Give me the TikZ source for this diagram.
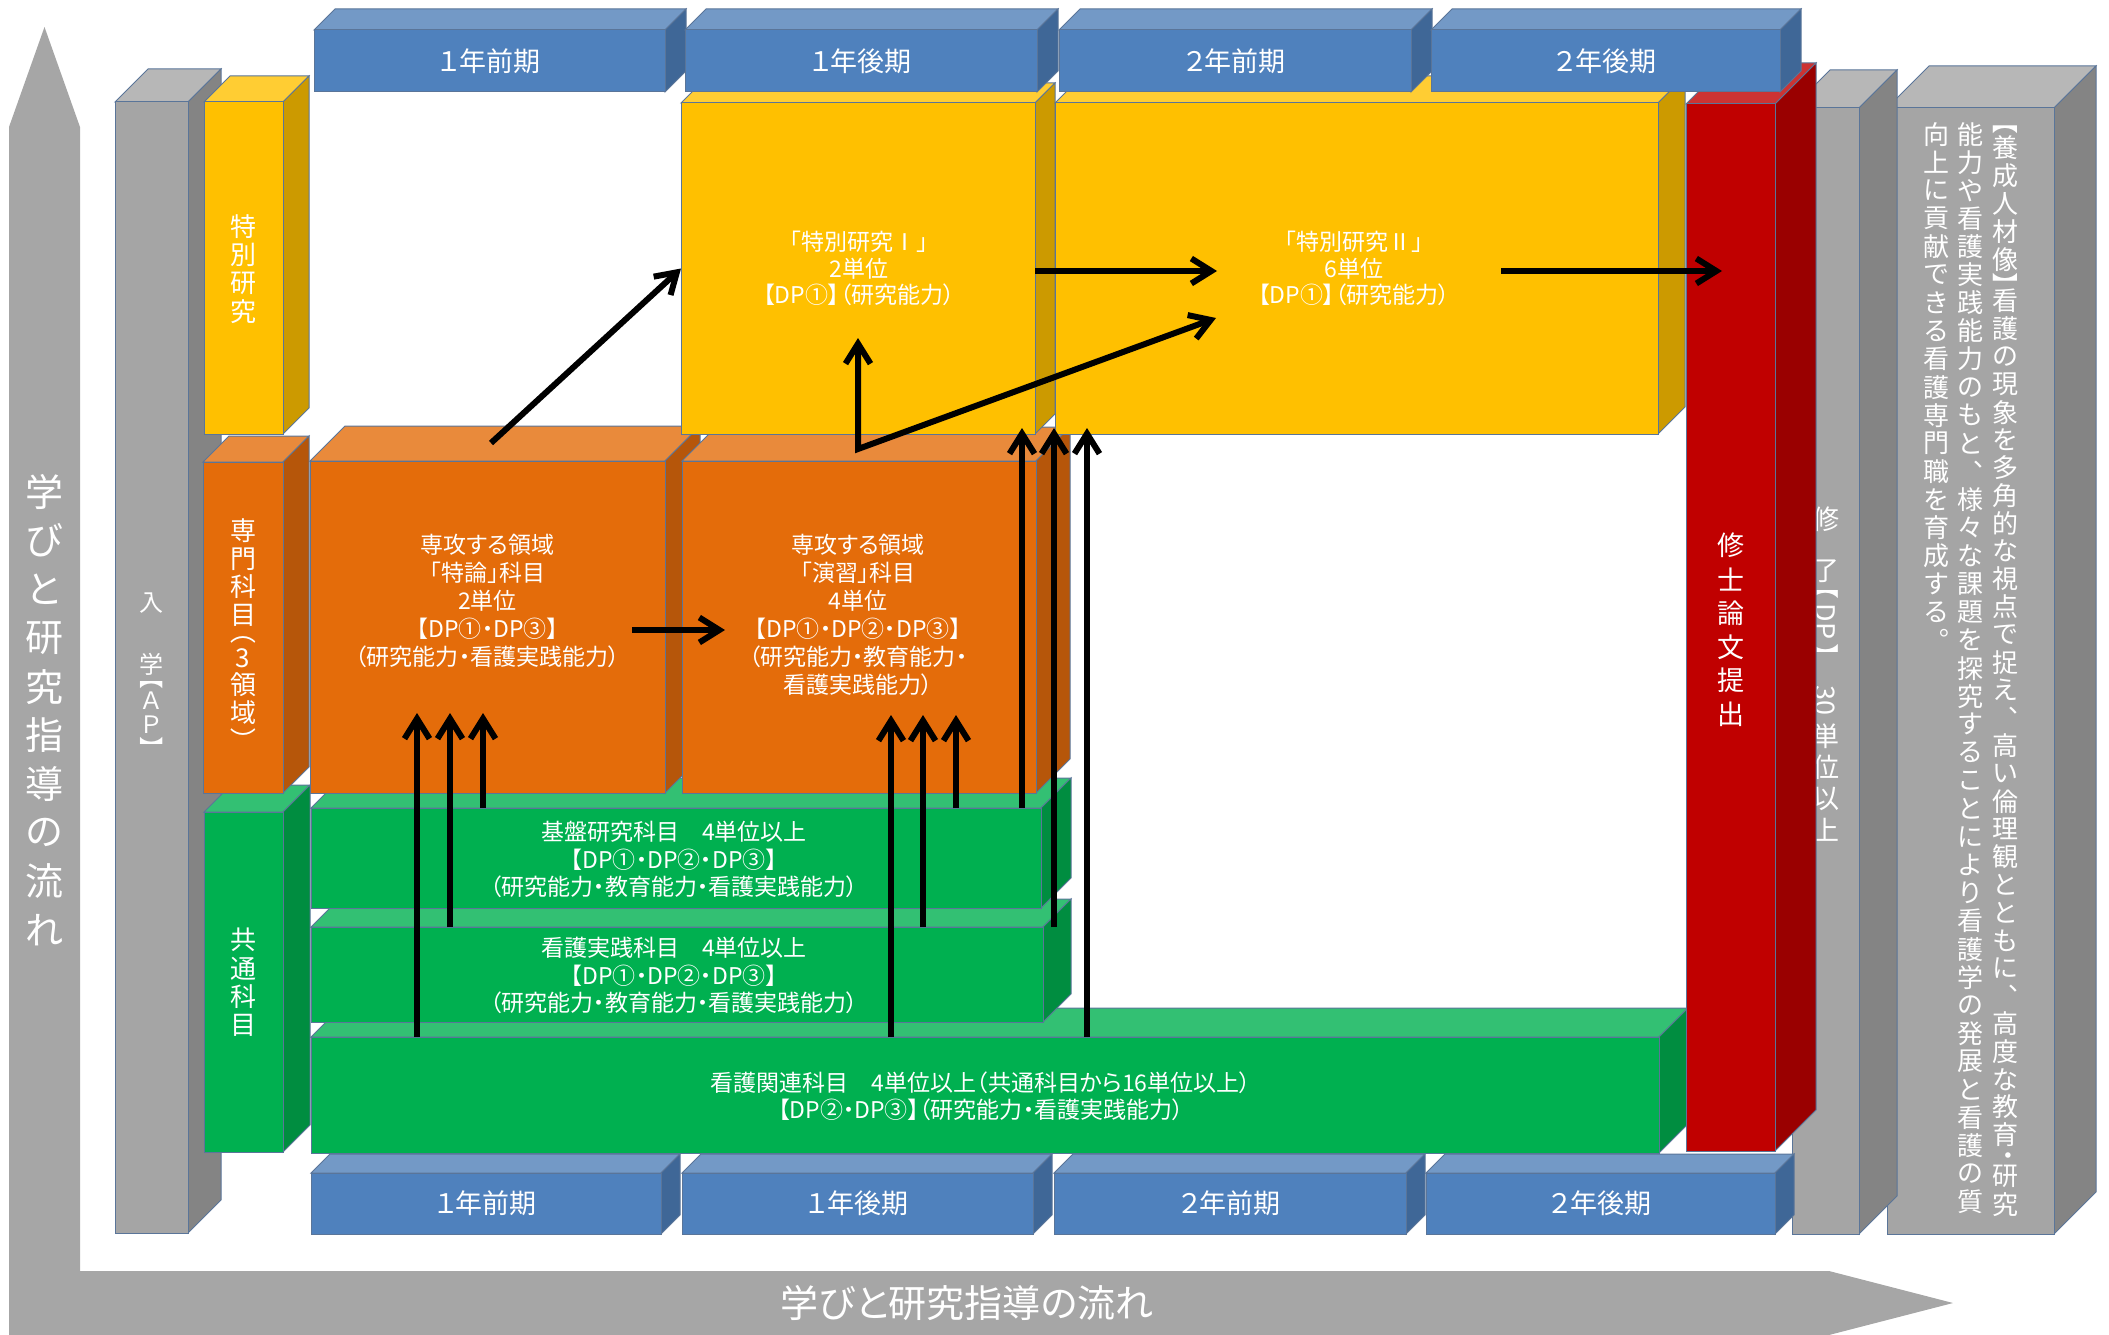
\documentclass[tikz,border=0pt]{standalone}
\usepackage{fontspec}
\usepackage{graphicx}
\usetikzlibrary{arrows.meta,fit}
\setmainfont{Noto Sans CJK JP}
\newfontfamily\jp[RawFeature=+palt]{Noto Sans CJK JP}
\newfontfamily\jv{Noto Sans CJK JP}

\definecolor{gyF}{HTML}{A5A5A5}\definecolor{gyT}{HTML}{B7B7B7}\definecolor{gyS}{HTML}{848484}
\definecolor{ylF}{HTML}{FFC000}\definecolor{ylT}{HTML}{FFCD33}\definecolor{ylS}{HTML}{CC9A00}
\definecolor{orF}{HTML}{E46C0A}\definecolor{orT}{HTML}{E98A3B}\definecolor{orS}{HTML}{B6560A}
\definecolor{gnF}{HTML}{00B050}\definecolor{gnT}{HTML}{33C073}\definecolor{gnS}{HTML}{008D40}
\definecolor{blF}{HTML}{4F81BD}\definecolor{blT}{HTML}{7399C6}\definecolor{blS}{HTML}{3F6797}
\definecolor{rdF}{HTML}{C00000}\definecolor{rdT}{HTML}{CD3333}\definecolor{rdS}{HTML}{9A0000}
\definecolor{edgec}{HTML}{5A7599}
\definecolor{flow}{HTML}{A6A6A6}

\newcommand\vcell[2]{\hbox to 1.1em{\hss\vbox to #1{\vss\hbox{#2}\vss}\hss}}
\newcommand\rot[1]{\rotatebox{-90}{\jp #1}}
\ExplSyntaxOn
\tl_const:Nn \c_my_half_tl {【】・（）}
\NewDocumentCommand\vt{mm}{
  \vbox{\offinterlineskip
    \tl_map_inline:nn {#2}{
      \tl_if_in:NnTF \c_my_half_tl {##1}
        {\vcell{0.5\dimexpr#1\relax}{\rot{##1}}}
        {\vcell{#1}{##1}}
    }}}
\ExplSyntaxOff

\newcommand\cubebox[7]{%
  \filldraw[edge, fill=#7T] (#2,#3) -- (#2+#6,#3-#6) -- (#4+#6,#3-#6) -- (#4,#3) -- cycle;
  \filldraw[edge, fill=#7S] (#4,#3) -- (#4+#6,#3-#6) -- (#4+#6,#5-#6) -- (#4,#5) -- cycle;
  \node[edge, fill=#7F, fit={(#2,#3) (#4,#5)}, inner sep=0pt, outer sep=0pt] (#1) {};
}

\tikzset{
  edge/.style={draw=edgec, line width=1pt},
  txt/.style={text=white, align=center, inner sep=0pt, font=\jp\fontsize{23}{27.5}\selectfont},
  vtxt/.style={text=white, inner sep=0pt, font=\jv\fontsize{#1}{#1}\selectfont},
  btxt/.style={text=white, inner sep=0pt, font=\jp\fontsize{27}{27}\selectfont},
  arr/.style={line width=6pt, -{Straight Barb[length=20pt,width=25pt]}},
  arrtwo/.style={line width=6pt, line join=miter, {Straight Barb[length=20pt,width=25pt]}-{Straight Barb[length=20pt,width=25pt]}},
}

\begin{document}
\begin{tikzpicture}[x=1pt,y=-1pt]
\useasboundingbox (0,0) rectangle (2109,1335);

% flow arrow (L shape)
\fill[flow] (9,1335) -- (9,127) -- (44.5,27) -- (80,127) -- (80,1271) -- (1829,1271) -- (1953,1303) -- (1829,1335) -- cycle;
\node[vtxt=38] (flowv) at (44.5,711) {\vt{48.7pt}{学びと研究指導の流れ}};
\node[text=white, inner sep=0pt, font=\jp\fontsize{38}{38}\selectfont] (flowh) at (967,1303) {学びと研究指導の流れ};

% far right box
\cubebox{fr}{1887}{108}{2054}{1234}{42}{gy}
\node[vtxt=26, anchor=north] (fr1) at (2005,120) {\vt{27.8pt}{【養成人材像】看護の現象を多角的な視点で捉え︑高い倫理観とともに︑高度な教育・研究}};
\node[vtxt=26, anchor=north] (fr2) at (1970,120) {\vt{28.1pt}{能力や看護実践能力のもと︑様々な課題を探究することにより看護学の発展と看護の質}};
\node[vtxt=26, anchor=north] (fr3) at (1936,120) {\vt{28.1pt}{向上に貢献できる看護専門職を育成する︒}};

% completion box
\cubebox{sr}{1792}{108}{1859}{1234}{38}{gy}
\node[vtxt=27] (sr1) at (1825.5,519) {修};
\node[vtxt=27, anchor=north] (sr2) at (1825.5,557) {\vbox{\offinterlineskip\vcell{28pt}{了}\vcell{14pt}{\rot{【}}\vcell{45pt}{\rotatebox{-90}{DP}}\vcell{14pt}{\rot{】}}\vcell{21pt}{}\vcell{42pt}{\rotatebox{-90}{30}}\vcell{31pt}{単}\vcell{31pt}{位}\vcell{31pt}{以}\vcell{31pt}{上}}};

% entrance box
\cubebox{ent}{115}{102}{188}{1233}{33}{gy}
\node[vtxt=24] (ent1) at (151.5,603) {入};
\node[vtxt=24] (ent2) at (151.5,700) {\vbox{\offinterlineskip\vcell{26pt}{学}\vcell{12pt}{\rot{【}}\vcell{24pt}{Ａ}\vcell{24pt}{Ｐ}\vcell{12pt}{\rot{】}}}};

% green
\cubebox{kanren}{311}{1037}{1659}{1153}{29}{gn}
\node[txt] (tkan) at (981,1096) {看護関連科目　4単位以上（共通科目から16単位以上）\\【DP②・DP③】（研究能力・看護実践能力）};
\cubebox{jissen}{311}{927}{1043}{1022}{28}{gn}
\node[txt] (tjis) at (674,975.5) {看護実践科目　4単位以上\\【DP①・DP②・DP③】\\（研究能力・教育能力・看護実践能力）};
\cubebox{kiban}{311}{808}{1041}{908}{30}{gn}
\node[txt] (tkib) at (674,859.5) {基盤研究科目　4単位以上\\【DP①・DP②・DP③】\\（研究能力・教育能力・看護実践能力）};
\cubebox{kyotsu}{204}{812}{283}{1152}{27}{gn}
\node[vtxt=26] (tkyo) at (243.5,982.5) {\vt{28.3pt}{共通科目}};

% red
\cubebox{red}{1686}{104}{1775}{1151}{41}{rd}
\node[vtxt=27] (tred) at (1730.5,630) {\vt{33.8pt}{修士論文提出}};

% orange
\cubebox{senmon}{203}{462}{283}{793}{26}{or}
\node[vtxt=26] (tsen) at (243,630) {\vbox{\offinterlineskip\vcell{28pt}{専}\vcell{28pt}{門}\vcell{28pt}{科}\vcell{28pt}{目}\vcell{16pt}{\rot{（}}\vcell{26pt}{3}\vcell{28pt}{領}\vcell{28pt}{域}\vcell{16pt}{\rot{）}}}};
\cubebox{tokuron}{310}{461}{665}{793}{35}{or}
\node[txt, font=\jp\fontsize{23}{28}\selectfont] (ttok) at (487.5,601) {専攻する領域\\「特論」科目\\2単位\\【DP①・DP③】\\（研究能力・看護実践能力）};
\cubebox{ensyu}{682}{461}{1036}{793}{34}{or}
\node[txt, font=\jp\fontsize{23}{28}\selectfont] (tens) at (858,615) {専攻する領域\\「演習」科目\\4単位\\【DP①・DP②・DP③】\\（研究能力・教育能力・\\看護実践能力）};

% yellow
\cubebox{tokubetsu}{204}{102}{283}{434}{26}{yl}
\node[vtxt=26] (ttkb) at (243.5,269.5) {\vt{28.3pt}{特別研究}};
\cubebox{y1}{681}{103}{1035}{434}{20}{yl}
\node[txt, font=\jp\fontsize{23}{26.5}\selectfont] (ty1) at (859,268.5) {「特別研究Ⅰ」\\2単位\\【DP①】（研究能力）};
\cubebox{y2}{1055}{103}{1658}{434}{27}{yl}
\node[txt, font=\jp\fontsize{23}{26.5}\selectfont] (ty2) at (1354,268.5) {「特別研究Ⅱ」\\6単位\\【DP①】（研究能力）};

% blue top row
\cubebox{b1}{314}{30}{665}{92}{21}{bl}
\node[btxt] (tb1) at (b1) {１年前期};
\cubebox{b2}{685}{30}{1037}{92}{21}{bl}
\node[btxt] (tb2) at (b2) {１年後期};
\cubebox{b3}{1059}{30}{1411}{92}{21}{bl}
\node[btxt] (tb3) at (b3) {２年前期};
\cubebox{b4}{1431}{30}{1780}{92}{21}{bl}
\node[btxt] (tb4) at (b4) {２年後期};
% blue bottom row
\cubebox{c1}{311}{1173}{661}{1234}{19}{bl}
\node[btxt] (tc1) at (c1) {１年前期};
\cubebox{c2}{682}{1173}{1033}{1234}{19}{bl}
\node[btxt] (tc2) at (c2) {１年後期};
\cubebox{c3}{1054}{1173}{1406}{1234}{19}{bl}
\node[btxt] (tc3) at (c3) {２年前期};
\cubebox{c4}{1426}{1173}{1775}{1234}{19}{bl}
\node[btxt] (tc4) at (c4) {２年後期};

% arrows
\coordinate (a1s) at (491,443);
\draw[arr] (a1s) -- (y1.west);
\coordinate (a2e) at (1217,271);
\draw[arr] (y1.east |- a2e) -- (a2e);
\coordinate (a3s) at (1501,271);
\coordinate (a3e) at (1722,271);
\draw[arr] (a3s) -- (a3e);
\coordinate (hub) at (858,449);
\coordinate (a4e) at (858,338);
\coordinate (a5e) at (1216,318);
\draw[arrtwo] (a4e) -- (hub) -- (a5e);
\coordinate (a6s) at (632,630);
\coordinate (a6e) at (725,630);
\draw[arr] (a6s) -- (a6e);
\foreach \x/\b/\t in {417/kanren/713, 450/jissen/713, 483/kiban/713, 891/kanren/715, 923/jissen/715, 956/kiban/715, 1022/kiban/428, 1054/jissen/428, 1087/kanren/428}{
  \coordinate (tip\x) at (\x,\t);
  \draw[arr] (tip\x |- \b.north) -- (tip\x);
}
\end{tikzpicture}
\end{document}
